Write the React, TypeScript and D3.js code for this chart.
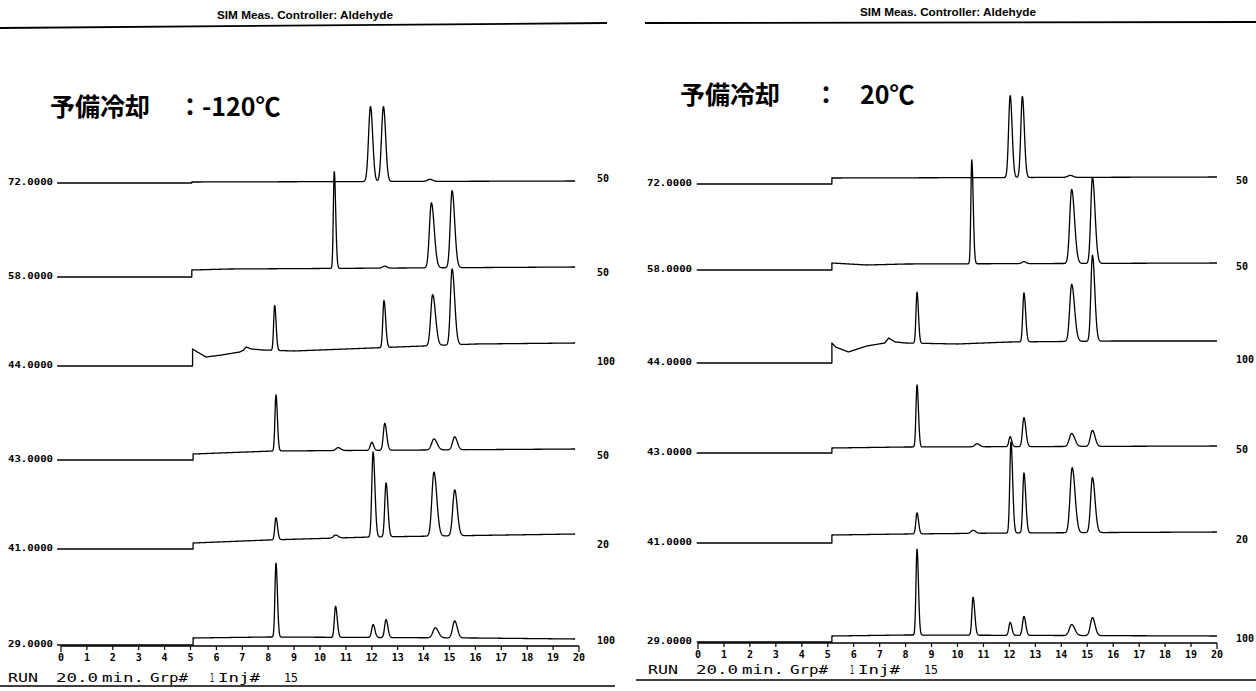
import React from "react";
import * as d3 from "d3";

type Pt = [number, number];
type Pk = [number, number, number, number]; // [retention time (min), height, sigma left, sigma right]

const timeTicks = [0, 1, 2, 3, 4, 5, 6, 7, 8, 9, 10, 11, 12, 13, 14, 15, 16, 17, 18, 19, 20];
const massLabels = ["72.0000", "58.0000", "44.0000", "43.0000", "41.0000", "29.0000"];
const coldRanges = ["50", "50", "100", "50", "20", "100"];
const warmRanges = ["50", "50", "100", "50", "20", "100"];
const coldTitle = ["予備冷却", "：", "-120℃"];
const warmTitle = ["予備冷却", "：", "20℃"];
const headerText = "SIM Meas. Controller: Aldehyde";
const runInfo = ["RUN", "20.0", "min.", "Grp#", "1", "Inj#", "15"];

// ---------- left panel: 予備冷却 -120℃  (baseline points [t, signal]) ----------
const cold72Base: Pt[] = [[-0.15, 463], [5.05, 463], [5.05, 464], [19.85, 465]];
const cold72Peaks: Pk[] = [[11.95, 75, 0.075, 0.085], [12.45, 75, 0.075, 0.085], [14.25, 2, 0.1, 0.1]];

const cold58Base: Pt[] = [[-0.15, 369], [5.05, 369], [5.05, 376], [6.5, 377], [19.85, 379]];
const cold58Peaks: Pk[] = [[10.55, 97, 0.035, 0.055], [12.5, 2, 0.08, 0.08], [14.3, 65, 0.075, 0.11], [15.1, 77, 0.07, 0.1]];

const cold44Base: Pt[] = [[-0.15, 280], [5.08, 280], [5.08, 297], [5.2, 295], [5.6, 289], [6.2, 291], [6.9, 294], [7.05, 296], [7.15, 299], [7.35, 297], [7.8, 296], [9, 295], [12, 298], [14, 300], [16, 302], [19.85, 303]];
const cold44Peaks: Pk[] = [[8.25, 45, 0.04, 0.055], [12.47, 47, 0.045, 0.065], [14.35, 51, 0.075, 0.11], [15.1, 76, 0.065, 0.1]];

const cold43Base: Pt[] = [[-0.15, 186], [5.1, 186], [5.1, 192], [8.2, 195], [19.85, 197]];
const cold43Peaks: Pk[] = [[8.3, 56, 0.04, 0.055], [10.7, 3, 0.08, 0.1], [12.0, 8, 0.06, 0.07], [12.5, 27, 0.055, 0.075], [14.4, 11, 0.09, 0.12], [15.2, 13, 0.08, 0.1]];

const cold41Base: Pt[] = [[-0.15, 97], [5.1, 97], [5.1, 103], [8, 106], [12, 109], [19.85, 112]];
const cold41Peaks: Pk[] = [[8.3, 22, 0.045, 0.06], [10.6, 3, 0.08, 0.1], [12.05, 85, 0.05, 0.07], [12.55, 54, 0.05, 0.07], [14.4, 64, 0.08, 0.11], [15.2, 46, 0.075, 0.1]];

const cold29Base: Pt[] = [[-0.15, 1], [5.1, 1], [5.1, 8], [8, 9], [16, 8], [19.85, 7]];
const cold29Peaks: Pk[] = [[8.3, 74, 0.04, 0.055], [10.6, 31, 0.045, 0.065], [12.05, 13, 0.055, 0.07], [12.55, 18, 0.055, 0.07], [14.45, 10, 0.09, 0.12], [15.2, 17, 0.08, 0.1]];

// ---------- right panel: 予備冷却 20℃ ----------
const warm72Base: Pt[] = [[-0.05, 459], [5.16, 459], [5.16, 465], [20, 466]];
const warm72Peaks: Pk[] = [[12.03, 82, 0.06, 0.075], [12.5, 81, 0.06, 0.075], [14.35, 2, 0.1, 0.1]];

const warm58Base: Pt[] = [[-0.05, 373], [5.16, 373], [5.16, 380], [6.5, 378], [8, 379], [20, 380]];
const warm58Peaks: Pk[] = [[10.55, 104, 0.035, 0.055], [12.56, 2, 0.08, 0.08], [14.4, 74, 0.075, 0.11], [15.2, 86, 0.065, 0.1]];

const warm44Base: Pt[] = [[-0.05, 280], [5.16, 280], [5.16, 300], [5.3, 296], [5.8, 291], [6.5, 297], [7.2, 300], [7.35, 305], [7.6, 301], [8, 300], [10, 299], [12, 301], [16, 302], [20, 302]];
const warm44Peaks: Pk[] = [[8.44, 51, 0.04, 0.055], [12.56, 49, 0.045, 0.065], [14.4, 57, 0.075, 0.11], [15.2, 86, 0.06, 0.09]];

const warm43Base: Pt[] = [[-0.05, 190], [5.16, 190], [5.16, 195], [8, 196], [20, 197]];
const warm43Peaks: Pk[] = [[8.44, 62, 0.04, 0.055], [10.75, 3, 0.08, 0.1], [12.03, 10, 0.05, 0.06], [12.56, 29, 0.055, 0.075], [14.4, 13, 0.09, 0.12], [15.2, 16, 0.08, 0.1]];

const warm41Base: Pt[] = [[-0.05, 100], [5.16, 100], [5.16, 108], [8, 109], [12, 110], [20, 111]];
const warm41Peaks: Pk[] = [[8.44, 21, 0.045, 0.06], [10.6, 3, 0.08, 0.1], [12.06, 91, 0.045, 0.065], [12.56, 60, 0.045, 0.07], [14.42, 65, 0.08, 0.11], [15.2, 55, 0.07, 0.1]];

const warm29Base: Pt[] = [[-0.05, 1], [5.16, 1], [5.16, 7], [8, 8], [20, 7]];
const warm29Peaks: Pk[] = [[8.44, 86, 0.04, 0.055], [10.6, 38, 0.045, 0.065], [12.03, 13, 0.05, 0.065], [12.56, 19, 0.055, 0.07], [14.4, 11, 0.09, 0.12], [15.2, 18, 0.08, 0.1]];

const coldBases = [cold72Base, cold58Base, cold44Base, cold43Base, cold41Base, cold29Base];
const coldPeaks = [cold72Peaks, cold58Peaks, cold44Peaks, cold43Peaks, cold41Peaks, cold29Peaks];
const warmBases = [warm72Base, warm58Base, warm44Base, warm43Base, warm41Base, warm29Base];
const warmPeaks = [warm72Peaks, warm58Peaks, warm44Peaks, warm43Peaks, warm41Peaks, warm29Peaks];

function peakSum(peaks: Pk[], t: number) {
  let s = 0;
  for (const [c, h, sl, sr] of peaks) {
    const sg = t < c ? sl : sr;
    const z = (t - c) / sg;
    if (Math.abs(z) < 8) s += h * Math.exp(-0.5 * z * z);
  }
  return s;
}

function trace(base: Pt[], peaks: Pk[]): Pt[] {
  const out: Pt[] = [];
  for (let i = 0; i < base.length - 1; i++) {
    const [t0, s0] = base[i];
    const [t1, s1] = base[i + 1];
    if (t1 <= t0) {
      out.push([t0, s0 + peakSum(peaks, t0)]);
      continue;
    }
    const n = Math.max(1, Math.ceil((t1 - t0) / 0.01));
    for (let k = 0; k < n; k++) {
      const t = t0 + ((t1 - t0) * k) / n;
      out.push([t, s0 + ((s1 - s0) * k) / n + peakSum(peaks, t)]);
    }
  }
  const [tl, sl] = base[base.length - 1];
  out.push([tl, sl + peakSum(peaks, tl)]);
  return out;
}

type PanelCfg = {
  dx: number;
  x0: number;
  x20: number;
  axisY: number;
  labelX: number;
  rangeX: number;
  rangeDy: number;
  headerCx: number;
  headerY: number;
  headerLine: [number, number, number, number];
  titleX: number[];
  titleY: number;
  runY: number;
  bottomLine: [number, number, number];
  bases: Pt[][];
  peaks: Pk[][];
  ranges: string[];
  title: string[];
};

const runX = [8, 56, 102, 150, 210, 218, 284];
const runW = [30, 42, 42, 38, 4, 42, 14];

function Panel({ c }: { c: PanelCfg }) {
  const x = d3.scaleLinear().domain([0, 20]).range([c.x0, c.x20]);
  const y = d3.scaleLinear().domain([0, 500]).range([c.axisY, c.axisY - 500]);
  const line = d3
    .line<Pt>()
    .x((d) => x(d[0]))
    .y((d) => y(d[1]));
  const mono = "'DejaVu Sans Mono', 'Liberation Mono', monospace";
  return (
    <g>
      <text
        x={c.headerCx}
        y={c.headerY}
        textAnchor="middle"
        fontFamily="'Liberation Sans', Arial, sans-serif"
        fontWeight="bold"
        fontSize={10.5}
        textLength={176}
        lengthAdjust="spacingAndGlyphs"
      >
        {headerText}
      </text>
      <line x1={c.headerLine[0]} y1={c.headerLine[1]} x2={c.headerLine[2]} y2={c.headerLine[3]} stroke="#000" strokeWidth={1.8} />
      <text fontFamily="'Noto Sans CJK JP', sans-serif" fontSize={25} fontWeight={600} y={c.titleY}>
        {c.title.map((s, i) => (
          <tspan key={i} x={c.titleX[i]}>
            {s}
          </tspan>
        ))}
      </text>
      {c.bases.map((b, i) => {
        const pre = b[0][1];
        return (
          <g key={i}>
            <path d={line(trace(b, c.peaks[i])) || ""} fill="none" stroke="#000" strokeWidth={1.3} strokeLinejoin="round" />
            <text
              x={c.labelX}
              y={y(pre) + 2}
              fontFamily={mono}
              fontWeight="bold"
              fontSize={9.5}
              textLength={45}
              lengthAdjust="spacingAndGlyphs"
            >
              {massLabels[i]}
            </text>
            <text x={c.rangeX} y={y(pre) + c.rangeDy} fontFamily={mono} fontWeight="bold" fontSize={10}>
              {c.ranges[i]}
            </text>
          </g>
        );
      })}
      <line x1={x(0)} x2={x(20)} y1={c.axisY} y2={c.axisY} stroke="#000" strokeWidth={1.4} />
      {timeTicks.map((t) => (
        <g key={t}>
          <line
            x1={x(t)}
            x2={x(t)}
            y1={c.axisY}
            y2={c.axisY + (t === 0 || t === 20 ? 6 : 4)}
            stroke="#000"
            strokeWidth={1.2}
          />
          <text x={x(t)} y={c.axisY + 15} textAnchor="middle" fontFamily={mono} fontWeight="bold" fontSize={10}>
            {t}
          </text>
        </g>
      ))}
      <text y={c.runY} fontFamily={mono} fontSize={13}>
        {runInfo.map((s, i) => (
          <tspan key={i} x={runX[i] + c.dx} textLength={runW[i]} lengthAdjust="spacingAndGlyphs">
            {s}
          </tspan>
        ))}
      </text>
      <line x1={c.bottomLine[0]} x2={c.bottomLine[1]} y1={c.bottomLine[2]} y2={c.bottomLine[2]} stroke="#000" strokeWidth={1.6} />
    </g>
  );
}

const coldCfg: PanelCfg = {
  dx: 0,
  x0: 61,
  x20: 579,
  axisY: 646,
  labelX: 8,
  rangeX: 597,
  rangeDy: -1,
  headerCx: 305,
  headerY: 19,
  headerLine: [0, 28, 607, 23],
  titleX: [50, 177.5, 202],
  titleY: 116,
  runY: 682,
  bottomLine: [0, 615, 686],
  bases: coldBases,
  peaks: coldPeaks,
  ranges: coldRanges,
  title: coldTitle,
};

const warmCfg: PanelCfg = {
  dx: 640,
  x0: 698,
  x20: 1217,
  axisY: 643,
  labelX: 647,
  rangeX: 1236,
  rangeDy: 0,
  headerCx: 948,
  headerY: 16,
  headerLine: [645, 23, 1256, 22],
  titleX: [680, 813.5, 860],
  titleY: 104,
  runY: 674,
  bottomLine: [636, 1256, 680],
  bases: warmBases,
  peaks: warmPeaks,
  ranges: warmRanges,
  title: warmTitle,
};

export default function App() {
  return (
    <svg
      width={1256}
      height={691}
      viewBox="0 0 1256 691"
      style={{ position: "absolute", left: 0, top: 0, background: "#fff" }}
    >
      <rect width={1256} height={691} fill="#fff" />
      <Panel c={coldCfg} />
      <Panel c={warmCfg} />
    </svg>
  );
}
